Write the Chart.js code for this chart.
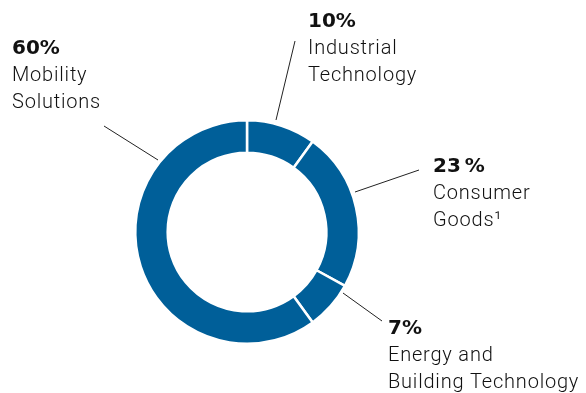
<!DOCTYPE html>
<html>
<head>
<meta charset="utf-8">
<script src="https://cdn.jsdelivr.net/npm/chart.js@4/dist/chart.umd.min.js"></script>
<style>
    html, body { margin: 0; padding: 0; background: #fff; }
    #wrap { position: relative; width: 586px; height: 393px; }
</style>
</head>
<body>
<div id="wrap"><canvas id="myDoughnut" width="586" height="393"></canvas></div>
<script>
// sales share by business sector, clockwise from 12 o'clock
const sectors = [
    "Industrial Technology",
    "Consumer Goods",
    "Energy and Building Technology",
    "Mobility Solutions",
];
const shares = [10, 23, 7, 60];
const shareTexts = ["10%", "23\u2009%", "7%", "60%"];
const nameLines = [
    ["Industrial", "Technology"],
    ["Consumer", "Goods\u00b9"],
    ["Energy and", "Building Technology"],
    ["Mobility", "Solutions"],
];

// where each caption sits and where its pointer line runs
const captionPos = [
    { x: 308, y: 27 },
    { x: 433, y: 172 },
    { x: 388, y: 334 },
    { x: 12, y: 54 },
];
const pointerLines = [
    [[276, 120], [295, 41]],
    [[355, 192], [419, 170]],
    [[343, 293], [382, 321]],
    [[158, 160], [104, 126]],
];

const blue = "#005f99";

const captionPlugin = {
    id: "captions",
    afterDraw(chart) {
        const ctx = chart.ctx;
        ctx.save();
        ctx.strokeStyle = "#222";
        ctx.lineWidth = 1;
        pointerLines.forEach((ln) => {
            ctx.beginPath();
            ctx.moveTo(ln[0][0], ln[0][1]);
            ctx.lineTo(ln[1][0], ln[1][1]);
            ctx.stroke();
        });

        ctx.fillStyle = "#111";
        ctx.textBaseline = "alphabetic";
        ctx.textAlign = "left";
        sectors.forEach((s, i) => {
            const p = captionPos[i];
            ctx.font = "bold 20px 'DejaVu Sans', sans-serif";
            ctx.letterSpacing = "0px";
            ctx.fillText(shareTexts[i], p.x, p.y);
            ctx.font = "300 20px Roboto, 'Noto Sans', sans-serif";
            ctx.letterSpacing = "0.8px";
            nameLines[i].forEach((t, j) => {
                ctx.fillText(t, p.x, p.y + 27 * (j + 1));
            });
        });
        ctx.restore();
    },
};

const ctx = document.getElementById("myDoughnut");
new Chart(ctx, {
    type: "doughnut",
    data: {
        labels: sectors,
        datasets: [
            {
                data: shares,
                backgroundColor: blue,
                borderColor: "#ffffff",
                borderWidth: 2.5,
                hoverOffset: 0,
            },
        ],
    },
    options: {
        responsive: false,
        animation: false,
        cutout: "71%",
        layout: {
            padding: { left: 134, right: 226, top: 119, bottom: 48 },
        },
        plugins: {
            legend: { display: false },
            tooltip: { enabled: false },
        },
    },
    plugins: [captionPlugin],
});
</script>
</body>
</html>
